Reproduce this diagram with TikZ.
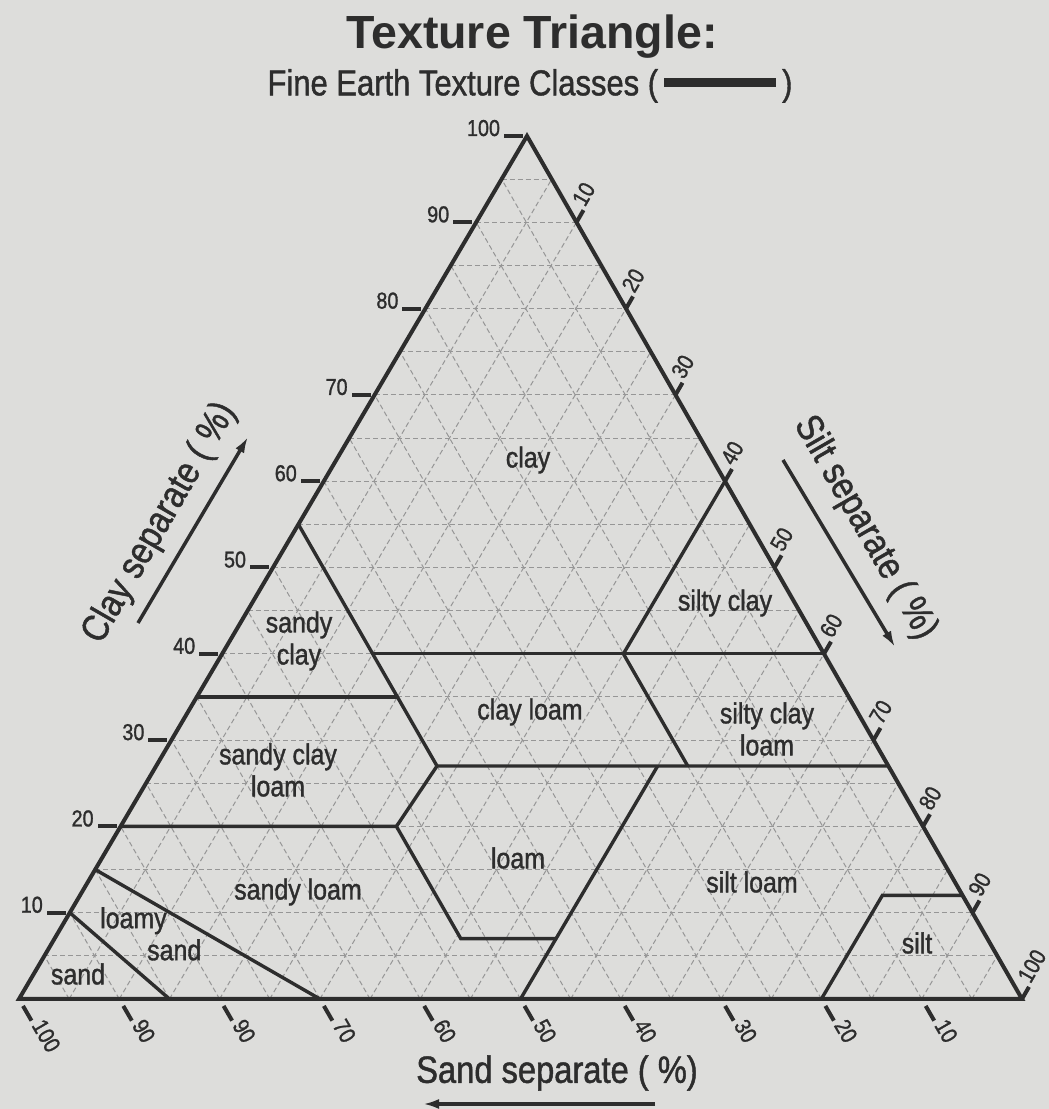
\documentclass[tikz,border=0pt]{standalone}
\usepackage{fontspec}
\setmainfont{Liberation Sans}
\newfontfamily\narrowsf[FakeStretch=0.86, FakeBold=1.2]{Liberation Sans}
\usetikzlibrary{arrows.meta}
\definecolor{paper}{RGB}{221,221,219}
\definecolor{ink}{RGB}{45,45,45}
\definecolor{gridgray}{RGB}{150,150,150}

\begin{document}
\begin{tikzpicture}[x=1pt, y=1pt,
    gridline/.style={gridgray, dash pattern=on 5pt off 3pt, line width=1pt},
    rim/.style={ink, line width=4pt, line join=miter},
    classline/.style={ink, line width=3.4pt},
    tickmark/.style={ink, line width=4pt},
    ticklabel/.style={text=ink, font=\narrowsf\fontsize{23}{25}\selectfont, inner sep=2pt},
    region/.style={text=ink, font=\narrowsf\fontsize{29}{32}\selectfont, align=center, inner sep=0pt},
    axistitle/.style={text=ink, font=\narrowsf\fontsize{38}{40}\selectfont, inner sep=0pt},
    arr/.style={ink, line width=3.5pt, -{Latex[length=16pt,width=10pt]}}
]
\fill[paper] (0,0) rectangle (1049,1109);
\useasboundingbox (0,0) rectangle (1049,1109);

\begin{scope}[shift={(19,110)}, x={(10.03pt,0pt)}, y={(5.08pt,8.63pt)}]
  \foreach \k in {5,10,...,95} {
    \draw[gridline] (0,\k) -- ({100-\k},\k);
    \draw[gridline] (\k,0) -- (\k,{100-\k});
    \draw[gridline] (\k,0) -- (0,\k);
  }
  \draw[classline] (0,10) -- (15,0);
  \draw[classline] (0,15) -- (30,0);
  \draw[classline] (0,20) -- (27.5,20) -- (40.5,7) -- (50,7);
  \draw[classline] (50,0) -- (50,27);
  \draw[classline] (27.5,20) -- (28,27) -- (73,27);
  \draw[classline] (0,55) -- (28,27);
  \draw[classline] (0,35) -- (20,35);
  \draw[classline] (15,40) -- (60,40);
  \draw[classline] (40,40) -- (53,27);
  \draw[classline] (40,40) -- (40,60);
  \draw[classline] (80,0) -- (80,12) -- (88,12);
  \draw[rim] (0,0) -- (100,0) -- (0,100) -- cycle;
  \foreach \v in {10,20,...,100} {
    \draw[tickmark] (0,\v) ++(-4pt,0) -- ++(-19pt,0)
      node[ticklabel, anchor=base east] (clayv\v) {\v};
    \draw[tickmark] (\v,{100-\v}) -- ++(60:14pt)
      node[ticklabel, rotate=60, anchor=base west, inner sep=1pt] (siltv\v) {\v};
    \draw[tickmark] ({100-\v},0) ++(-60:8pt) -- ++(-60:17pt)
      node[ticklabel, rotate=-60, anchor=mid west] (sandv\v) {\ifnum\v=80 90\else\v\fi};
  }
\end{scope}

\node[text=ink, font=\bfseries\fontsize{46.5}{50}\selectfont] (title) at (532,1072) {Texture Triangle:};
\node[text=ink, font=\narrowsf\fontsize{36}{40}\selectfont] (subtitle) at (530,1023)
  {Fine Earth Texture Classes (\,\rule[0.24em]{112pt}{9pt}\,)};

\node[axistitle, rotate=60] (claytitle) at (160,586) {Clay separate ( \%)};
\node[axistitle, rotate=-60] (silttitle) at (865,581) {Silt separate ( \%)};
\node[axistitle] (sandtitle) at (557,36) {Sand separate ( \%)};
\coordinate (clayfrom) at (138,486);
\coordinate (clayto) at (248,672);
\coordinate (siltfrom) at (783,649);
\coordinate (siltto) at (895,462);
\coordinate (sandfrom) at (655,5);
\coordinate (sandto) at (423,5);
\draw[arr] (clayfrom) -- (clayto);
\draw[arr] (siltfrom) -- (siltto);
\draw[arr] (sandfrom) -- (sandto);

\node[region] (clay) at (528,649) {clay};
\node[region] (sandyclay) at (299,468) {sandy\\clay};
\node[region] (siltyclay) at (725,506) {silty clay};
\node[region] (clayloam) at (530,397) {clay loam};
\node[region] (siltyclayloam) at (767,380) {silty clay\\loam};
\node[region] (sandyclayloam) at (278,339) {sandy clay\\loam};
\node[region] (loam) at (518,251) {loam};
\node[region] (siltloam) at (752,227) {silt loam};
\node[region] (sandyloam) at (298,217) {sandy loam};
\node[region, align=left, anchor=north west] (loamysand) at (100,202) {loamy\\\hspace*{47pt}sand};
\node[region] (sand) at (78,135) {sand};
\node[region] (silt) at (917,166) {silt};
\end{tikzpicture}
\end{document}
